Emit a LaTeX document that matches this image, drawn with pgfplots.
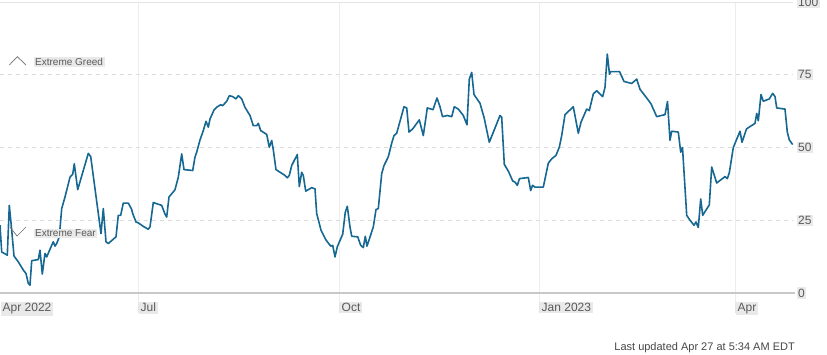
\documentclass[border=0pt]{standalone}
\usepackage{fontspec}
\setmainfont{Liberation Sans}
\usepackage{pgfplots}
\pgfplotsset{compat=1.18}
\definecolor{linec}{RGB}{22,104,146}
\definecolor{hgrid}{RGB}{220,220,220}
\definecolor{vgrid}{RGB}{228,228,228}
\definecolor{axisc}{RGB}{200,200,200}
\definecolor{labelbg}{RGB}{233,233,233}
\definecolor{labeltext}{RGB}{90,90,90}
\definecolor{footc}{RGB}{70,70,70}
\definecolor{chevc}{RGB}{110,110,110}
\begin{document}
\begin{tikzpicture}
\useasboundingbox (0pt,-61pt) rectangle (827pt,293pt);
\begin{axis}[
  at={(0pt,0pt)}, anchor=south west,
  scale only axis, width=793pt, height=291pt,
  xmin=0, xmax=793, ymin=0, ymax=100,
  clip=false,
  axis line style={draw=none},
  major tick length=0pt,
  /pgf/number format/assume math mode=true,
  xtick={0,138,339,539,735},
  xticklabels={Apr 2022,Jul,Oct,Jan 2023,Apr},
  ytick={0,25,50,75,100},
  yticklabels={0,25,50,75,100},
  yticklabel pos=right,
  xticklabel style={anchor=north west, fill=labelbg, text=labeltext, inner sep=1.5pt,
    font=\fontsize{12}{12}\selectfont, yshift=-8.5pt, xshift=1pt},
  yticklabel style={anchor=west, fill=labelbg, text=labeltext, inner sep=1.5pt,
    font=\fontsize{12}{12}\selectfont, xshift=3.5pt},
]
% grid
\draw[hgrid, dash pattern=on 4pt off 4pt, line width=0.8pt] (rel axis cs:0,0.25) -- (rel axis cs:1,0.25);
\draw[hgrid, dash pattern=on 4pt off 4pt, line width=0.8pt] (rel axis cs:0,0.5) -- (rel axis cs:1,0.5);
\draw[hgrid, dash pattern=on 4pt off 4pt, line width=0.8pt] (rel axis cs:0,0.75) -- (rel axis cs:1,0.75);
\draw[vgrid, line width=0.8pt] (rel axis cs:0,1) -- (rel axis cs:1,1);
\draw[vgrid, line width=1pt] (axis cs:138,100) -- (axis cs:138,0) -- ++(0,-20pt);
\draw[vgrid, line width=1pt] (axis cs:339,100) -- (axis cs:339,0) -- ++(0,-20pt);
\draw[vgrid, line width=1pt] (axis cs:539,100) -- (axis cs:539,0) -- ++(0,-20pt);
\draw[vgrid, line width=1pt] (axis cs:735,100) -- (axis cs:735,0) -- ++(0,-20pt);
\draw[axisc, line width=1.6pt] (rel axis cs:0,0) -- ([xshift=2pt]rel axis cs:1,0);
\addplot[linec, line width=1.6pt, line join=round, mark=none] coordinates {
(0,23.3) (1.7,14.1) (7.3,13.0) (9.3,30.1) (11.7,21.6) (14,12.7) (18.3,10.7)
(23.3,7.9) (26,6.7) (28.3,3.3) (30,2.7) (31.7,11.1) (38.3,11.5) (40,14.7)
(42.3,6.5) (45,13.6) (46.7,12.4) (51.7,16.4) (53.3,17.6) (55,16.1) (56.7,17.0)
(59.3,19.3) (61.7,29.0) (65,33.0) (70,39.8) (72.7,40.8) (74.3,44.4) (77.7,35.5)
(88.3,48.0) (90.7,46.9) (101,20.4) (103.3,29.0) (106,17.6) (108.3,17.0) (116,19.3)
(118.3,26.7) (120.7,26.7) (123.3,30.9) (128.3,30.9) (131.7,28.7) (132.7,27.3)
(136,24.4) (138.3,24.1) (143.3,22.9) (148.3,21.9) (150,22.7) (153.3,31.1)
(161.7,30.1) (165,27.1) (166.7,26.1) (169,33.0) (171.7,34.1) (175,35.5)
(178.3,39.8) (181.7,47.8) (184,42.4) (192.7,42.1) (195,46.7) (196.7,48.4)
(200,52.6) (203.3,55.8) (206,59.0) (208.3,57.0) (210,59.8) (214,62.9)
(217.3,64.0) (220.7,64.7) (222.7,64.4) (226.7,65.9) (229.3,67.8) (232.7,67.5)
(236,66.7) (238.3,67.8) (241.7,66.7) (245,63.8) (250,61.0) (253.3,57.5)
(256.7,57.5) (258.3,58.3) (260.7,55.8) (266.7,54.5) (269.3,50.1) (271.7,52.4)
(273.3,49.2) (276,42.4) (285,40.4) (287.3,39.6) (289.3,40.4) (291.7,43.8)
(297.3,47.6) (299.3,36.6) (301.7,41.5) (303.3,40.4) (305.7,35.0) (311.7,36.2)
(315,35.8) (316.7,27.3) (321,21.6) (326,18.2) (330.7,16.1) (332.7,16.4)
(335,12.4) (337.3,15.9) (342.7,20.2) (345.3,27.8) (347.3,29.8) (350,22.7)
(351.7,19.5) (357.7,19.3) (360.7,16.4) (363.3,15.6) (365.3,19.5) (367,16.1)
(373.3,22.7) (376,28.7) (378.3,29.0) (381.7,41.0) (384,43.8) (388.3,46.8)
(391.7,51.5) (394,54.1) (396.7,54.9) (404,64.0) (406.7,63.6) (409,55.3)
(412.7,56.4) (419.3,59.5) (423.3,54.1) (427.3,63.6) (433,63.0) (437,67.0)
(440,64.0) (442.5,60.6) (447.3,61.0) (451.7,60.6) (454.3,64.0) (458.3,63.2)
(463.3,61.0) (467,57.8) (469.3,73.5) (471.7,75.8) (474,68.2) (480,65.2)
(484,60.4) (489.3,51.8) (500,61.0) (501.7,60.4) (504.3,44.2) (508.3,41.9)
(512.7,38.5) (515,38.1) (517.3,37.0) (519.5,39.3) (528.3,39.7) (530.7,35.2)
(532.5,37.0) (535,36.4) (543.3,36.4) (548.3,44.6) (551.7,46.1) (556,47.3)
(559.3,50.1) (561.7,54.1) (565,61.3) (573.3,64.0) (578.3,54.9) (581,58.7)
(586.7,63.2) (589.3,62.7) (593.3,68.4) (596.7,69.5) (602.7,67.5) (605,70.7)
(607.3,82.1) (609.5,75.2) (610.7,76.1) (619.5,76.1) (624,72.7) (631.7,72.0)
(636.7,73.5) (640,70.0) (648.3,66.3) (651,65.0) (656.7,60.6) (665,61.3)
(667.5,65.8) (670,52.5) (671.7,55.6) (678.3,55.3) (680.7,48.4) (682.5,50.0)
(686.7,26.7) (690,25.0) (694,23.3) (696,24.4) (698.3,22.5) (700.7,32.3)
(702.7,26.7) (709.3,30.3) (711.7,43.3) (716.7,37.8) (725,40.0) (727.3,39.3)
(729.3,41.3) (733.3,50.0) (740,55.6) (742,51.8) (746.5,56.4) (755,58.3)
(756.7,61.7) (758.3,59.2) (761,68.2) (763.3,65.9) (769.3,66.7) (772.7,68.6)
(775,67.5) (776.7,63.6) (785,63.2) (787.3,55.3) (789.3,52.6) (792.7,51.0)
};
\end{axis}
% annotations
\draw[chevc, line width=0.7pt] (9.3pt,228pt) -- (17.3pt,236.3pt) -- (26pt,228pt);
\node[anchor=west, fill=labelbg, text=labeltext, inner sep=1.5pt,
  font=\fontsize{10}{10}\selectfont] at (33.5pt,231pt) {Extreme Greed};
\draw[chevc, line width=0.7pt] (10pt,66pt) -- (17pt,57pt) -- (26pt,66pt);
\node[anchor=west, fill=labelbg, text=labeltext, inner sep=1.5pt,
  font=\fontsize{10}{10}\selectfont] at (33.5pt,59.5pt) {Extreme Fear};
\node[anchor=base east, text=footc, inner sep=0pt,
  font=\fontsize{11}{12}\selectfont] at (795pt,-57.5pt) {Last updated Apr 27 at 5:34 AM EDT};
\end{tikzpicture}
\end{document}
